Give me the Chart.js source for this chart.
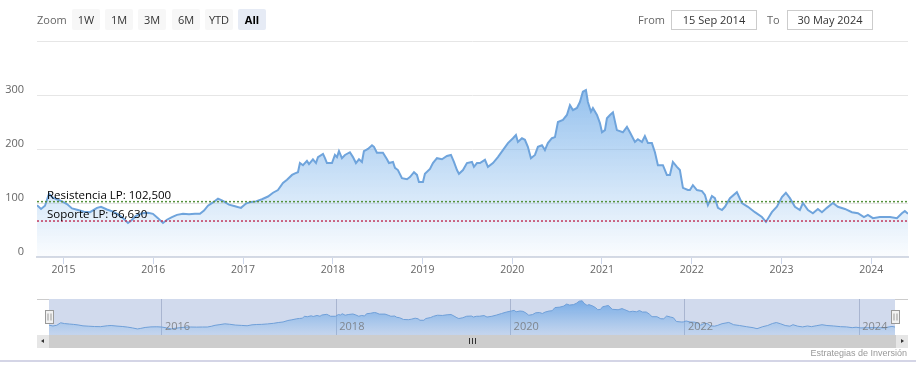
<!DOCTYPE html>
<html>
<head>
<meta charset="utf-8">
<script src="https://cdn.jsdelivr.net/npm/chart.js@4.4.1/dist/chart.umd.min.js"></script>
<style>
  html, body { margin: 0; padding: 0; background: #fff; }
  body {
    width: 916px; height: 372px; position: relative; overflow: hidden;
    font-family: "Open Sans", "Liberation Sans", sans-serif;
  }
  #main { position: absolute; left: 0; top: 0; }
  #nav { position: absolute; left: 0; top: 290px; }
  .lbl { position: absolute; top: 9px; line-height: 21px; font-size: 11px; color: #666; }
  .btn {
    position: absolute; top: 9px; width: 28px; height: 21px; line-height: 21px;
    text-align: center; background: #f7f7f7; color: #333; font-size: 11px; border-radius: 2px;
  }
  .btn.sel { background: #e6ebf5; color: #000; font-weight: bold; }
  .box {
    position: absolute; top: 10px; width: 84px; height: 18px; line-height: 18px;
    border: 1px solid #ccc; text-align: center; font-size: 11px; color: #333;
  }
  #track { position: absolute; left: 37px; top: 335px; width: 871px; height: 13px; background: #cdcdcd; }
  .sbtn { position: absolute; top: 335px; width: 12px; height: 13px; background: #e6e6e6; }
  .arrow { position: absolute; top: 4px; width: 0; height: 0; border-top: 2.5px solid transparent; border-bottom: 2.5px solid transparent; }
  .grip { position: absolute; top: 338px; width: 1px; height: 6px; background: #333; }
  #credits {
    position: absolute; right: 9px; top: 348px; font-size: 9px; color: #999;
    font-family: "Liberation Sans", Arial, sans-serif;
  }
  #bottomline { position: absolute; left: 0; top: 360px; width: 916px; height: 2px; background: #d4d5e6; }
</style>
</head>
<body>
<canvas id="main" width="916" height="290"></canvas>
<canvas id="nav" width="916" height="48"></canvas>
<div id="track"></div>
<div class="sbtn" style="left:37px"><div class="arrow" style="left:4px;border-right:3px solid #333"></div></div>
<div class="sbtn" style="left:896px"><div class="arrow" style="left:5px;border-left:3px solid #333"></div></div>
<div class="grip" style="left:469px"></div>
<div class="grip" style="left:472px"></div>
<div class="grip" style="left:475px"></div>
<div id="credits">Estrategias de Inversión</div>
<div id="bottomline"></div>
<script>
// Cotización (años decimales)
const years = [
  2014.704, 2014.749, 2014.793, 2014.838, 2014.882, 2014.938, 2014.983, 2015.038, 2015.094, 2015.161,
  2015.228, 2015.295, 2015.373, 2015.417, 2015.484, 2015.551, 2015.607, 2015.662, 2015.718, 2015.751,
  2015.807, 2015.874, 2015.941, 2015.996, 2016.052, 2016.108, 2016.152, 2016.208, 2016.264, 2016.331,
  2016.398, 2016.464, 2016.520, 2016.565, 2016.609, 2016.665, 2016.721, 2016.776, 2016.843, 2016.910,
  2016.977, 2017.033, 2017.088, 2017.144, 2017.211, 2017.278, 2017.334, 2017.389, 2017.445, 2017.490,
  2017.546, 2017.579, 2017.612, 2017.634, 2017.668, 2017.712, 2017.735, 2017.779, 2017.813, 2017.835,
  2017.891, 2017.913, 2017.935, 2017.991, 2018.024, 2018.047, 2018.069, 2018.102, 2018.136, 2018.191,
  2018.225, 2018.258, 2018.292, 2018.325, 2018.347, 2018.392, 2018.437, 2018.459, 2018.492, 2018.559,
  2018.604, 2018.626, 2018.671, 2018.693, 2018.726, 2018.771, 2018.827, 2018.860, 2018.905, 2018.938,
  2018.960, 2019.005, 2019.027, 2019.083, 2019.116, 2019.161, 2019.217, 2019.272, 2019.317, 2019.350,
  2019.384, 2019.406, 2019.451, 2019.495, 2019.551, 2019.573, 2019.607, 2019.640, 2019.696, 2019.729,
  2019.785, 2019.840, 2019.896, 2019.952, 2020.008, 2020.041, 2020.063, 2020.108, 2020.141, 2020.174,
  2020.208, 2020.253, 2020.286, 2020.331, 2020.364, 2020.397, 2020.442, 2020.476, 2020.509, 2020.565,
  2020.609, 2020.643, 2020.676, 2020.721, 2020.754, 2020.787, 2020.821, 2020.843, 2020.877, 2020.899,
  2020.944, 2020.977, 2021.000, 2021.033, 2021.055, 2021.089, 2021.122, 2021.166, 2021.233, 2021.278,
  2021.311, 2021.367, 2021.400, 2021.445, 2021.478, 2021.512, 2021.556, 2021.590, 2021.623, 2021.679,
  2021.723, 2021.757, 2021.790, 2021.835, 2021.868, 2021.902, 2021.957, 2021.980, 2022.013, 2022.058,
  2022.114, 2022.147, 2022.180, 2022.225, 2022.258, 2022.292, 2022.337, 2022.370, 2022.426, 2022.503,
  2022.559, 2022.626, 2022.704, 2022.782, 2022.827, 2022.893, 2022.949, 2023.005, 2023.049, 2023.094,
  2023.150, 2023.205, 2023.239, 2023.295, 2023.350, 2023.406, 2023.451, 2023.506, 2023.573, 2023.629,
  2023.707, 2023.785, 2023.852, 2023.919, 2023.963, 2024.019, 2024.097, 2024.209, 2024.287, 2024.342,
  2024.375, 2024.410,
];
const precios = [
  96, 89, 95, 117, 110, 106, 103, 98, 90, 87,
  84, 83, 91, 93, 88, 84, 79, 72, 63, 67,
  76, 81, 82, 80, 72, 63, 69, 74, 78, 80,
  79, 80, 80, 86, 95, 101, 108, 104, 97, 94,
  91, 99, 102, 103, 107, 112, 119, 124, 137, 143,
  152, 155, 157, 174, 170, 178, 172, 181, 174, 185,
  191, 183, 174, 174, 189, 185, 196, 183, 189, 194,
  185, 174, 181, 176, 196, 200, 207, 204, 193, 193,
  181, 174, 176, 165, 161, 146, 144, 148, 157, 152,
  139, 139, 154, 163, 174, 183, 181, 187, 189, 176,
  161, 154, 161, 174, 176, 167, 174, 174, 180, 167,
  174, 185, 198, 211, 220, 226, 213, 220, 217, 204,
  183, 189, 204, 207, 198, 211, 220, 222, 250, 254,
  263, 281, 272, 276, 287, 306, 309, 287, 269, 276,
  263, 248, 231, 235, 257, 263, 268, 235, 231, 241,
  231, 213, 218, 213, 224, 211, 211, 194, 170, 170,
  152, 152, 176, 167, 161, 128, 124, 124, 133, 124,
  122, 115, 96, 113, 109, 91, 87, 93, 109, 120,
  100, 93, 83, 74, 65, 83, 93, 111, 119, 109,
  93, 87, 100, 87, 81, 89, 83, 91, 100, 93,
  89, 83, 81, 74, 78, 72, 74, 74, 72, 81,
  85, 80,
];
const resistencia = 102.5;
const soporte = 66.63;
const rangeButtons = ["1W", "1M", "3M", "6M", "YTD", "All"];
const selectedRange = "All";
const fromDate = "15 Sep 2014";
const toDate = "30 May 2024";

const xMin = years[0];
const xMax = years[years.length - 1];
const serie = years.map((x, i) => ({ x, y: precios[i] }));
const fmt = (v) => v.toFixed(3).replace(".", ",");

// range selector
function addDiv(cls, left, text, extra) {
  const d = document.createElement("div");
  d.className = cls;
  d.style.left = left + "px";
  if (extra) d.style.cssText += extra;
  d.textContent = text;
  document.body.appendChild(d);
}
addDiv("lbl", 37, "Zoom");
rangeButtons.forEach((b, i) => {
  addDiv(b === selectedRange ? "btn sel" : "btn", Math.round(72 + i * 33.2), b);
});
addDiv("lbl", 638, "From");
addDiv("box", 671, fromDate);
addDiv("lbl", 767, "To");
addDiv("box", 787, toDate);

function areaGradient(ctx, top, bottom) {
  const area = ctx.chart.chartArea;
  if (!area) return "rgba(124,181,236,0.5)";
  const g = ctx.chart.ctx.createLinearGradient(0, area.top, 0, area.bottom);
  g.addColorStop(0, top);
  g.addColorStop(1, bottom);
  return g;
}

const levelLabels = {
  id: "levelLabels",
  afterDatasetsDraw(chart) {
    const c = chart.ctx;
    const y = chart.scales.y;
    const left = chart.chartArea.left + 10;
    c.save();
    c.fillStyle = "#000";
    c.font = "11.5px 'Open Sans'";
    c.textBaseline = "alphabetic";
    c.fillText("Resistencia LP: " + fmt(resistencia), left, y.getPixelForValue(resistencia) - 3);
    c.fillText("Soporte LP: " + fmt(soporte), left, y.getPixelForValue(soporte) - 3);
    c.restore();
  },
};

new Chart(document.getElementById("main"), {
  type: "line",
  data: {
    datasets: [
      {
        data: [{ x: xMin, y: resistencia }, { x: xMax, y: resistencia }],
        borderColor: "#55913c",
        borderWidth: 1.5,
        borderDash: [2, 2],
        pointRadius: 0,
        order: 1,
      },
      {
        data: [{ x: xMin, y: soporte }, { x: xMax, y: soporte }],
        borderColor: "#c23a5e",
        borderWidth: 1.5,
        borderDash: [2, 2],
        pointRadius: 0,
        order: 1,
      },
      {
        data: serie,
        borderColor: "#6fa4dc",
        borderWidth: 2,
        pointRadius: 0,
        tension: 0,
        fill: "origin",
        backgroundColor: (ctx) => areaGradient(ctx, "rgba(118,174,232,1)", "rgba(124,181,236,0.03)"),
        order: 2,
      },
    ],
  },
  options: {
    responsive: false,
    animation: false,
    events: [],
    layout: { padding: { top: 41, right: 8, left: 0, bottom: 0 } },
    plugins: { legend: { display: false }, tooltip: { enabled: false } },
    scales: {
      x: {
        type: "linear",
        min: xMin,
        max: xMax,
        afterFit: (s) => { s.height = 33; },
        border: { display: true, color: "#d5dae4", width: 2 },
        grid: { drawOnChartArea: false, drawTicks: true, tickLength: 7, color: "#ccd6eb" },
        ticks: {
          stepSize: 1,
          includeBounds: false,
          autoSkip: false,
          maxRotation: 0,
          padding: 0,
          color: "#666",
          font: { family: "Open Sans", size: 10.5 },
          callback: (v) => String(v),
        },
      },
      y: {
        min: 0,
        max: 400,
        afterFit: (s) => { s.width = 37; },
        border: { display: false },
        grid: { color: "#e6e6e6", drawTicks: false },
        ticks: {
          stepSize: 100,
          padding: 13,
          labelOffset: -5,
          color: "#666",
          font: { family: "Open Sans", size: 11 },
          callback: (v) => (v === 400 ? "" : String(v)),
        },
      },
    },
  },
  plugins: [levelLabels],
});

// navigator
const navigatorDecor = {
  id: "navigatorDecor",
  beforeDatasetsDraw(chart) {
    const c = chart.ctx;
    const a = chart.chartArea;
    c.save();
    c.fillStyle = "rgba(102,133,194,0.3)";
    c.fillRect(a.left, a.top, a.right - a.left, a.bottom - a.top);
    c.strokeStyle = "#cccccc";
    c.lineWidth = 1;
    c.beginPath();
    c.moveTo(37, a.top + 0.5);
    c.lineTo(a.left, a.top + 0.5);
    c.moveTo(a.right, a.top + 0.5);
    c.lineTo(908, a.top + 0.5);
    c.stroke();
    c.restore();
  },
  afterDatasetsDraw(chart) {
    const c = chart.ctx;
    const a = chart.chartArea;
    const x = chart.scales.x;
    c.save();
    c.fillStyle = "rgba(110,110,110,0.75)";
    c.font = "11px 'Open Sans'";
    c.textBaseline = "middle";
    x.ticks.forEach((t) => {
      c.fillText(String(t.value), x.getPixelForValue(t.value) + 3, a.bottom - 8);
    });
    [a.left, a.right].forEach((hx) => {
      const px = Math.round(hx) + 0.5;
      c.fillStyle = "#f2f2f2";
      c.strokeStyle = "#999";
      c.fillRect(px - 4, 20.5, 8, 13);
      c.strokeRect(px - 4, 20.5, 8, 13);
      c.beginPath();
      c.moveTo(px - 1.5, 23.5);
      c.lineTo(px - 1.5, 30.5);
      c.moveTo(px + 1.5, 23.5);
      c.lineTo(px + 1.5, 30.5);
      c.stroke();
    });
    c.restore();
  },
};

new Chart(document.getElementById("nav"), {
  type: "line",
  data: {
    datasets: [
      {
        data: serie,
        borderColor: "#6f9fd8",
        borderWidth: 1,
        pointRadius: 0,
        tension: 0,
        fill: "origin",
        backgroundColor: (ctx) => areaGradient(ctx, "rgba(110,165,228,0.95)", "rgba(124,181,236,0.15)"),
      },
    ],
  },
  options: {
    responsive: false,
    animation: false,
    events: [],
    layout: { padding: { top: 9, right: 21, left: 49, bottom: 3 } },
    plugins: { legend: { display: false }, tooltip: { enabled: false } },
    scales: {
      x: {
        type: "linear",
        min: xMin,
        max: xMax,
        afterFit: (s) => { s.height = 0; },
        border: { display: false },
        grid: { color: "#c6cbd6", drawTicks: false },
        ticks: { display: false, stepSize: 2, includeBounds: false },
      },
      y: { display: false, min: 10, max: 325 },
    },
  },
  plugins: [navigatorDecor],
});
</script>
</body>
</html>
